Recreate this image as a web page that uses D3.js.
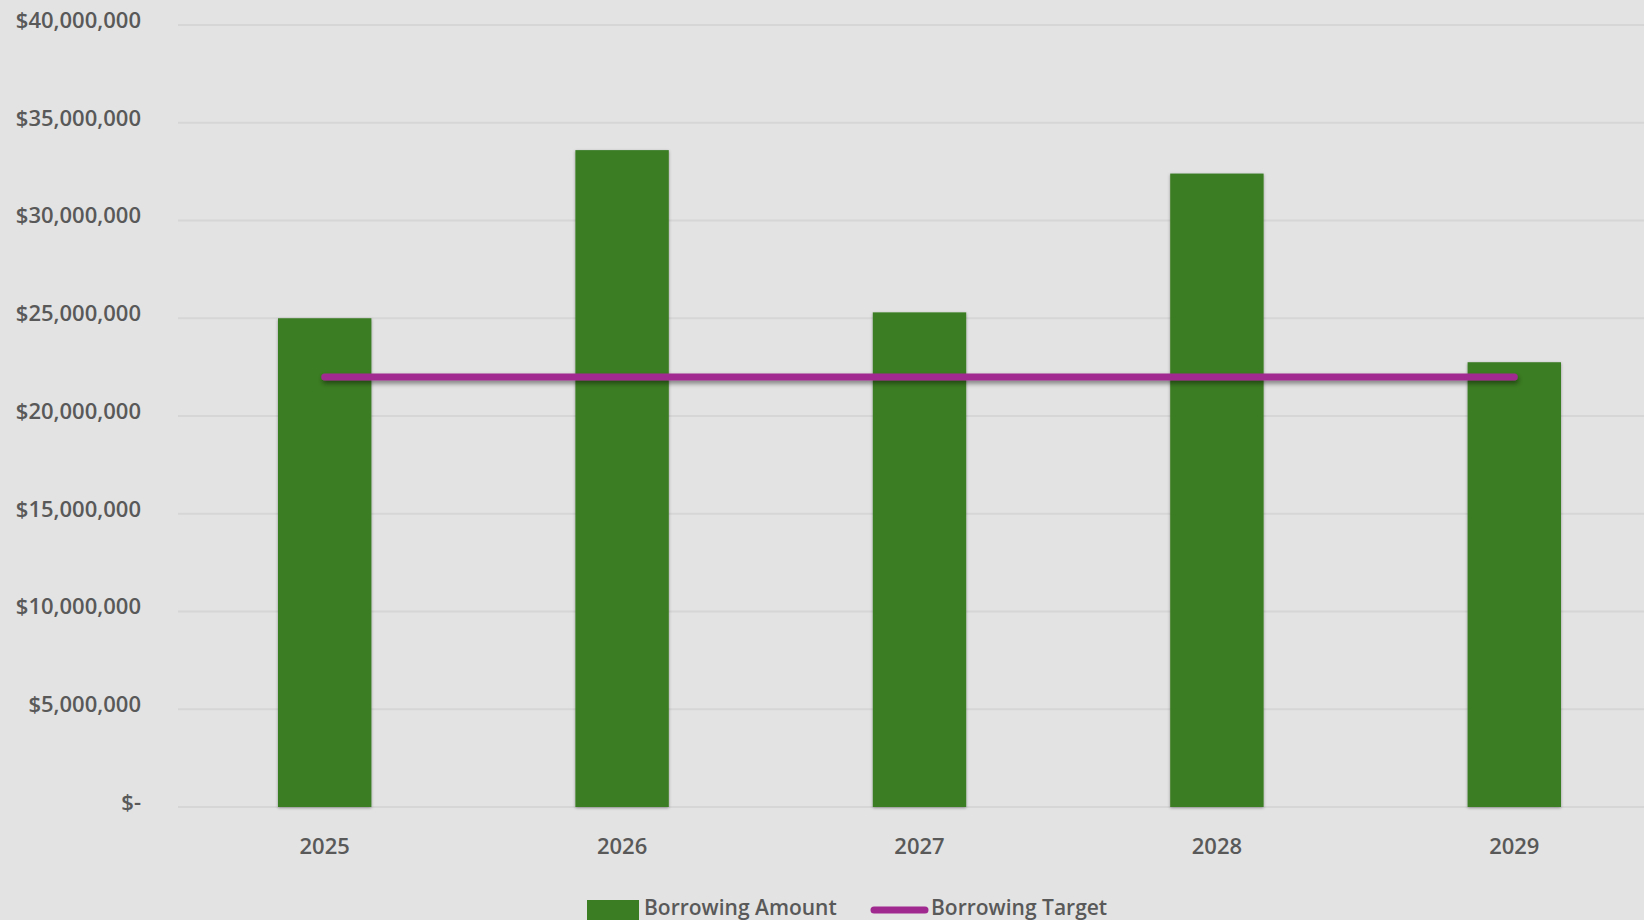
<!DOCTYPE html>
<html>
<head>
<meta charset="utf-8">
<script src="https://cdn.jsdelivr.net/npm/d3@7"></script>
<style>
    body { margin: 0; background: #e3e3e3; }
    svg { display: block; }
</style>
</head>
<body>
<div id="chart"></div>
<script>
// data
var years = ["2025", "2026", "2027", "2028", "2029"];
var borrowingAmount = [25000000, 33600000, 25300000, 32400000, 22750000];
var borrowingTarget = [22000000, 22000000, 22000000, 22000000, 22000000];
var yTicks = [0, 5000000, 10000000, 15000000, 20000000, 25000000, 30000000, 35000000, 40000000];

function drawChart() {
    const width = 1644;
    const height = 920;
    var margin = ({ top: 25, right: -19, bottom: 113, left: 176 });

    var x = d3.scaleBand()
        .domain(years)
        .range([margin.left, width - margin.right])
        .paddingInner(0.686)
        .paddingOuter(0.343);

    var y = d3.scaleLinear()
        .domain([0, 40000000])
        .range([height - margin.bottom, margin.top]);

    var fmt = d3.format(",");

    const svg = d3.select("#chart").append("svg")
        .attr("width", width)
        .attr("height", height)
        .attr("font-family", "'Open Sans', sans-serif");

    var defs = svg.append("defs");
    defs.append("filter").attr("id", "barShadow")
        .attr("x", "-20%").attr("y", "-20%").attr("width", "140%").attr("height", "140%")
        .append("feDropShadow")
        .attr("dx", 0).attr("dy", 1).attr("stdDeviation", 1.5)
        .attr("flood-color", "#000").attr("flood-opacity", 0.35);
    // horizontal path has a zero-height bbox, so use user space for the region
    defs.append("filter").attr("id", "lineShadow")
        .attr("filterUnits", "userSpaceOnUse")
        .attr("x", 0).attr("y", 0).attr("width", width).attr("height", height)
        .append("feDropShadow")
        .attr("dx", 1).attr("dy", 3).attr("stdDeviation", 2.5)
        .attr("flood-color", "#000").attr("flood-opacity", 0.45);

    svg.append("rect")
        .attr("width", width).attr("height", height)
        .attr("fill", "#e3e3e3");

    // gridlines
    svg.append("g")
        .attr("stroke", "#d6d6d6")
        .attr("stroke-width", 2)
        .selectAll("line")
        .data(yTicks)
        .join("line")
        .attr("x1", margin.left + 2)
        .attr("x2", width)
        .attr("y1", d => y(d))
        .attr("y2", d => y(d));

    // y labels
    svg.append("g")
        .attr("fill", "#595959")
        .attr("font-size", 22)
        .attr("font-weight", 600)
        .attr("text-anchor", "end")
        .selectAll("text")
        .data(yTicks)
        .join("text")
        .attr("x", 141)
        .attr("y", d => y(d) + 4)
        .attr("dy", "-0.05em")
        .text(d => d === 0 ? "$-" : "$" + fmt(d));

    // bars
    svg.append("g")
        .attr("fill", "#3a7d22")
        .attr("filter", "url(#barShadow)")
        .selectAll("rect")
        .data(borrowingAmount)
        .join("rect")
        .attr("x", (d, i) => x(years[i]))
        .attr("y", d => y(d))
        .attr("width", x.bandwidth())
        .attr("height", d => y(0) - y(d));

    // target line
    var line = d3.line()
        .x((d, i) => x(years[i]) + x.bandwidth() / 2)
        .y(d => y(d));

    svg.append("path")
        .datum(borrowingTarget)
        .attr("fill", "none")
        .attr("stroke", "#a0298f")
        .attr("stroke-width", 7)
        .attr("stroke-linecap", "round")
        .attr("filter", "url(#lineShadow)")
        .attr("d", line);

    // x labels
    svg.append("g")
        .attr("fill", "#595959")
        .attr("font-size", 22)
        .attr("font-weight", 600)
        .attr("text-anchor", "middle")
        .selectAll("text")
        .data(years)
        .join("text")
        .attr("x", d => x(d) + x.bandwidth() / 2)
        .attr("y", 854)
        .text(d => d);

    // legend
    var legend = svg.append("g")
        .attr("fill", "#595959")
        .attr("font-size", 21)
        .attr("font-weight", 600);

    legend.append("rect")
        .attr("x", 587).attr("y", 900)
        .attr("width", 52).attr("height", 22)
        .attr("fill", "#3a7d22");
    legend.append("text")
        .attr("x", 644).attr("y", 915)
        .text("Borrowing Amount");

    legend.append("line")
        .attr("x1", 874).attr("x2", 925)
        .attr("y1", 910).attr("y2", 910)
        .attr("stroke", "#a0298f")
        .attr("stroke-width", 7)
        .attr("stroke-linecap", "round");
    legend.append("text")
        .attr("x", 931).attr("y", 915)
        .text("Borrowing Target");
}

drawChart();
</script>
</body>
</html>
